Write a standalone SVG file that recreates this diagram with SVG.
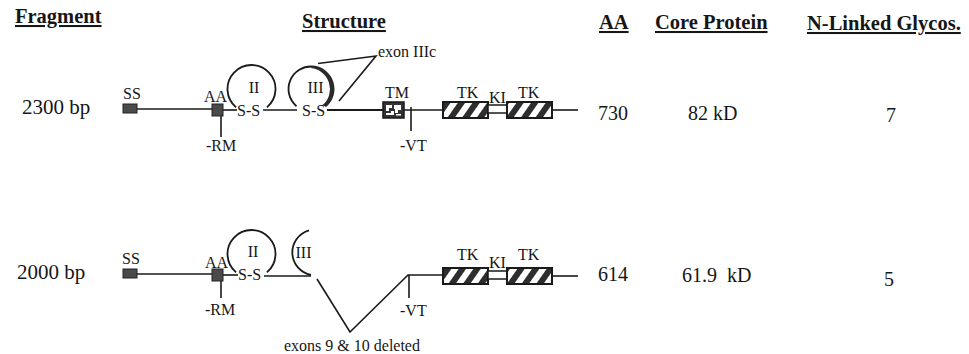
<svg xmlns="http://www.w3.org/2000/svg" width="969" height="354" viewBox="0 0 969 354">
<style>
text{font-family:"Liberation Serif","Times New Roman",serif;fill:#161616}
.h{font-weight:bold;font-size:20.5px;text-decoration:underline}
.big{font-size:21px}
.num{font-size:20px}
.lbl{font-size:16px}
.ln{stroke:#1a1a1a;stroke-width:1.6;fill:none}
.thk{stroke:#1a1a1a;stroke-width:2.2;fill:none}
.loop{stroke:#1a1a1a;stroke-width:1.8;fill:none}
.sq{fill:#4a4a4a;stroke:#222;stroke-width:1}
.tk{fill:url(#hatch);stroke:#1a1a1a;stroke-width:2}
.ki{fill:#fff;stroke:#1a1a1a;stroke-width:1.5}
</style>
<defs>
<pattern id="hatch" patternUnits="userSpaceOnUse" x="446" y="0" width="12" height="12" patternTransform="rotate(35)">
<rect width="12" height="12" fill="#fff"/>
<rect width="6" height="12" fill="#2e2e2e"/>
</pattern>
</defs>

<g id="headers">
<text class="h" x="15" y="23">Fragment</text>
<text class="h" x="302" y="28">Structure</text>
<text class="h" x="599" y="29">AA</text>
<text class="h" x="655" y="29">Core Protein</text>
<text class="h" x="807" y="30">N-Linked Glycos.</text>
</g>

<g id="connectors">
<line class="ln" x1="137" y1="109" x2="212" y2="109"/>
<line class="ln" x1="223" y1="110" x2="237" y2="110"/>
<line class="ln" x1="263" y1="110" x2="297" y2="110"/>
<line class="thk" x1="327" y1="110" x2="383" y2="110"/>
<line class="ln" x1="404" y1="110" x2="443" y2="110"/>
<line class="ln" x1="552" y1="110" x2="578" y2="110"/>
<line class="ln" x1="221" y1="116" x2="221" y2="137"/>
<line class="ln" x1="411" y1="107" x2="411" y2="131"/>
<polyline class="ln" points="318,63.5 376,56 339,101" stroke-width="1.2"/>
<line class="ln" x1="137" y1="274" x2="212" y2="274"/>
<line class="ln" x1="223" y1="275" x2="238" y2="275"/>
<line class="ln" x1="264" y1="276" x2="311" y2="276"/>
<polyline class="ln" points="317,279 350,332 408,275 443,275" stroke-width="1.3"/>
<line class="ln" x1="409" y1="275" x2="409" y2="298"/>
<line class="ln" x1="552" y1="276" x2="578" y2="276"/>
<line class="ln" x1="221" y1="281" x2="221" y2="298"/>
</g>

<g id="row1-fragment"><text class="big" x="22" y="114">2300 bp</text></g>
<g id="row1-ss"><rect class="sq" x="123" y="104" width="14" height="9"/><text class="lbl" x="123" y="99">SS</text></g>
<g id="row1-aa"><rect class="sq" x="212" y="104" width="11" height="12"/><text class="lbl" x="204" y="102">AA</text><text class="lbl" x="206" y="151">-RM</text></g>
<g id="row1-loopII">
<path class="loop" d="M236.1 107.4 A24 24 0 1 1 266.9 107.4"/>
<text class="lbl" x="254" y="93" text-anchor="middle">II</text>
<text class="lbl" x="237" y="116" font-size="17">S-S</text>
</g>
<g id="row1-loopIII">
<path class="loop" d="M296.5 106.2 A22.5 22.5 0 0 1 313 66.6"/>
<path d="M313 65.6 A23.5 23.5 0 0 1 326.1 107 L322.5 105.1 A21 21 0 0 0 310.8 68.1 Z" fill="#2a2a2a"/>
<text class="lbl" x="315.5" y="93" text-anchor="middle">III</text>
<text class="lbl" x="302" y="116" font-size="17">S-S</text>
<text class="lbl" x="378" y="57" font-size="16.5">exon IIIc</text>
</g>
<g id="row1-tm">
<rect x="383" y="102" width="21" height="16" fill="#333" stroke="#1a1a1a" stroke-width="1.5"/>
<path d="M386 105 h6 v3 h-3 v3 h-3 z M394 105 h7 v5 h-3 v3 h-3 v-4 h-1 z M386 113 h5 v-2 h3 v4 h-8 z M396 114 h5 v1.5 h-5 z" fill="#fff"/>
<text class="lbl" x="385" y="98">TM</text>
</g>
<g id="row1-vt"><text class="lbl" x="400" y="151">-VT</text></g>
<g id="row1-tk1"><rect class="tk" x="443" y="102" width="45" height="16"/><text class="lbl" x="457" y="98">TK</text></g>
<g id="row1-ki"><rect class="ki" x="488" y="105" width="19" height="8"/><text class="lbl" x="489" y="103">KI</text></g>
<g id="row1-tk2"><rect class="tk" x="507" y="102" width="45" height="16"/><text class="lbl" x="518" y="98">TK</text></g>
<g id="row1-values">
<text class="num" x="598" y="120">730</text>
<text class="num" x="688" y="120">82 kD</text>
<text class="num" x="886" y="122">7</text>
</g>

<g id="row2-fragment"><text class="big" x="17" y="279">2000 bp</text></g>
<g id="row2-ss"><rect class="sq" x="123" y="269" width="14" height="9"/><text class="lbl" x="122" y="264">SS</text></g>
<g id="row2-aa"><rect class="sq" x="212" y="269" width="11" height="12"/><text class="lbl" x="205" y="268">AA</text><text class="lbl" x="205" y="315">-RM</text></g>
<g id="row2-loopII">
<path class="loop" d="M236.1 272.4 A24 24 0 1 1 266.9 272.4"/>
<text class="lbl" x="253" y="257" text-anchor="middle">II</text>
<text class="lbl" x="238" y="280" font-size="17">S-S</text>
</g>
<g id="row2-loopIII">
<path class="loop" d="M309 230.3 A23 23 0 0 0 311 275"/>
<text class="lbl" x="303.5" y="258" text-anchor="middle">III</text>
</g>
<g id="row2-vt"><text class="lbl" x="400" y="316">-VT</text></g>
<g id="row2-tk1"><rect class="tk" x="443" y="268" width="45" height="16"/><text class="lbl" x="457" y="260">TK</text></g>
<g id="row2-ki"><rect class="ki" x="488" y="271" width="19" height="8"/><text class="lbl" x="489" y="268">KI</text></g>
<g id="row2-tk2"><rect class="tk" x="507" y="268" width="45" height="16"/><text class="lbl" x="518" y="260">TK</text></g>
<g id="row2-deleted"><text class="lbl" x="284" y="351" font-size="17.5">exons 9 &amp; 10 deleted</text></g>
<g id="row2-values">
<text class="num" x="598" y="281">614</text>
<text class="num" x="682" y="282" word-spacing="5">61.9 kD</text>
<text class="num" x="884" y="286">5</text>
</g>
</svg>
